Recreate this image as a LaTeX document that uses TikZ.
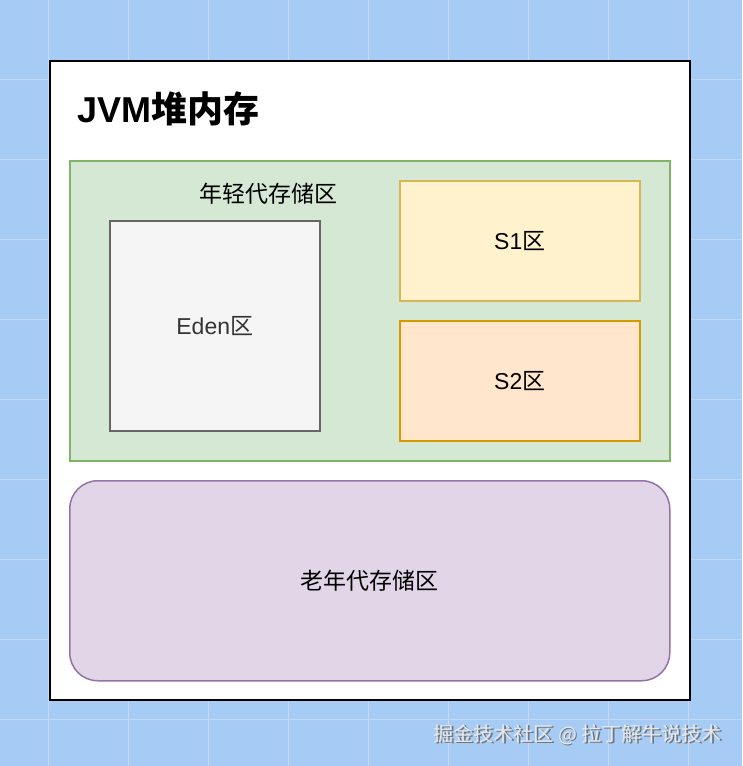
\documentclass[tikz,border=0pt]{standalone}
\usepackage{fontspec}
\setmainfont{Liberation Sans}
\newfontfamily\cjk{Noto Sans CJK SC}
\usepackage{tikz}
\usetikzlibrary{positioning,calc}
\definecolor{canvas}{HTML}{A6CBF5}
\definecolor{gridline}{HTML}{C2DAF7}
\definecolor{younggreen}{HTML}{D5E8D4}
\definecolor{younggreenline}{HTML}{82B366}
\definecolor{edengray}{HTML}{F5F5F5}
\definecolor{edengrayline}{HTML}{666666}
\definecolor{sonepale}{HTML}{FFF2CC}
\definecolor{soneline}{HTML}{D6B656}
\definecolor{stwopale}{HTML}{FFE6CC}
\definecolor{stwoline}{HTML}{D79B00}
\definecolor{oldpale}{HTML}{E1D5E7}
\definecolor{oldline}{HTML}{9673A6}
\definecolor{markgray}{HTML}{E4E9EF}
\tikzset{
  area/.style={draw,line width=1.5pt,anchor=north west,inner sep=0pt},
  txt/.style={font=\fontsize{23}{27}\selectfont,text=black,inner sep=0pt},
}

\begin{document}
\begin{tikzpicture}[x=1pt,y=-1pt]
  \fill[canvas] (0,0) rectangle (742,766);
  \useasboundingbox (0,0) rectangle (742,766);
  \foreach \gx in {48,128,...,728} \draw[gridline,line width=1pt] (\gx,0)--(\gx,766);
  \foreach \gy in {79,159,...,766} \draw[gridline,line width=1pt] (0,\gy)--(742,\gy);

  \node[area,fill=white,draw=black,line width=2pt,minimum width=640pt,minimum height=639pt]
    (heap) at (49,60) {};
  \node[anchor=west,font=\fontsize{36}{40}\selectfont\bfseries,inner sep=0pt]
    (title) at (77,109) {JVM{\cjk 堆内存}};

  \node[area,fill=younggreen,draw=younggreenline,minimum width=600pt,minimum height=300pt]
    (young) at (69,160) {};
  \node[txt,font=\fontsize{23}{27}\selectfont\cjk] (younglbl) at (268,194) {年轻代存储区};

  \node[area,fill=edengray,draw=edengrayline,minimum width=210pt,minimum height=210pt]
    (eden) at (109,220) {};
  \node[txt,text=black!80] at (eden.center) {Eden{\cjk 区}};

  \node[area,fill=sonepale,draw=soneline,minimum width=240pt,minimum height=120pt]
    (sone) at (399,180) {};
  \node[txt] at (sone.center) {S1{\cjk 区}};
  \node[area,fill=stwopale,draw=stwoline,minimum width=240pt,minimum height=120pt]
    (stwo) at (399,320) {};
  \node[txt] at (stwo.center) {S2{\cjk 区}};

  \node[area,fill=oldpale,draw=oldline,rounded corners=28pt,minimum width=600pt,minimum height=200pt]
    (old) at (69,480) {};
  \node[txt,font=\fontsize{23}{27}\selectfont\cjk] at (old.center) {老年代存储区};

  \node[anchor=east,font=\fontsize{20}{24}\selectfont\cjk,text=black!55,inner sep=0pt]
    (markshade) at (723.2,736.2) {掘金技术社区 @ 拉丁解牛说技术};
  \node[anchor=east,font=\fontsize{20}{24}\selectfont\cjk,text=markgray,inner sep=0pt]
    (mark) at (722,735) {掘金技术社区 @ 拉丁解牛说技术};
\end{tikzpicture}
\end{document}
